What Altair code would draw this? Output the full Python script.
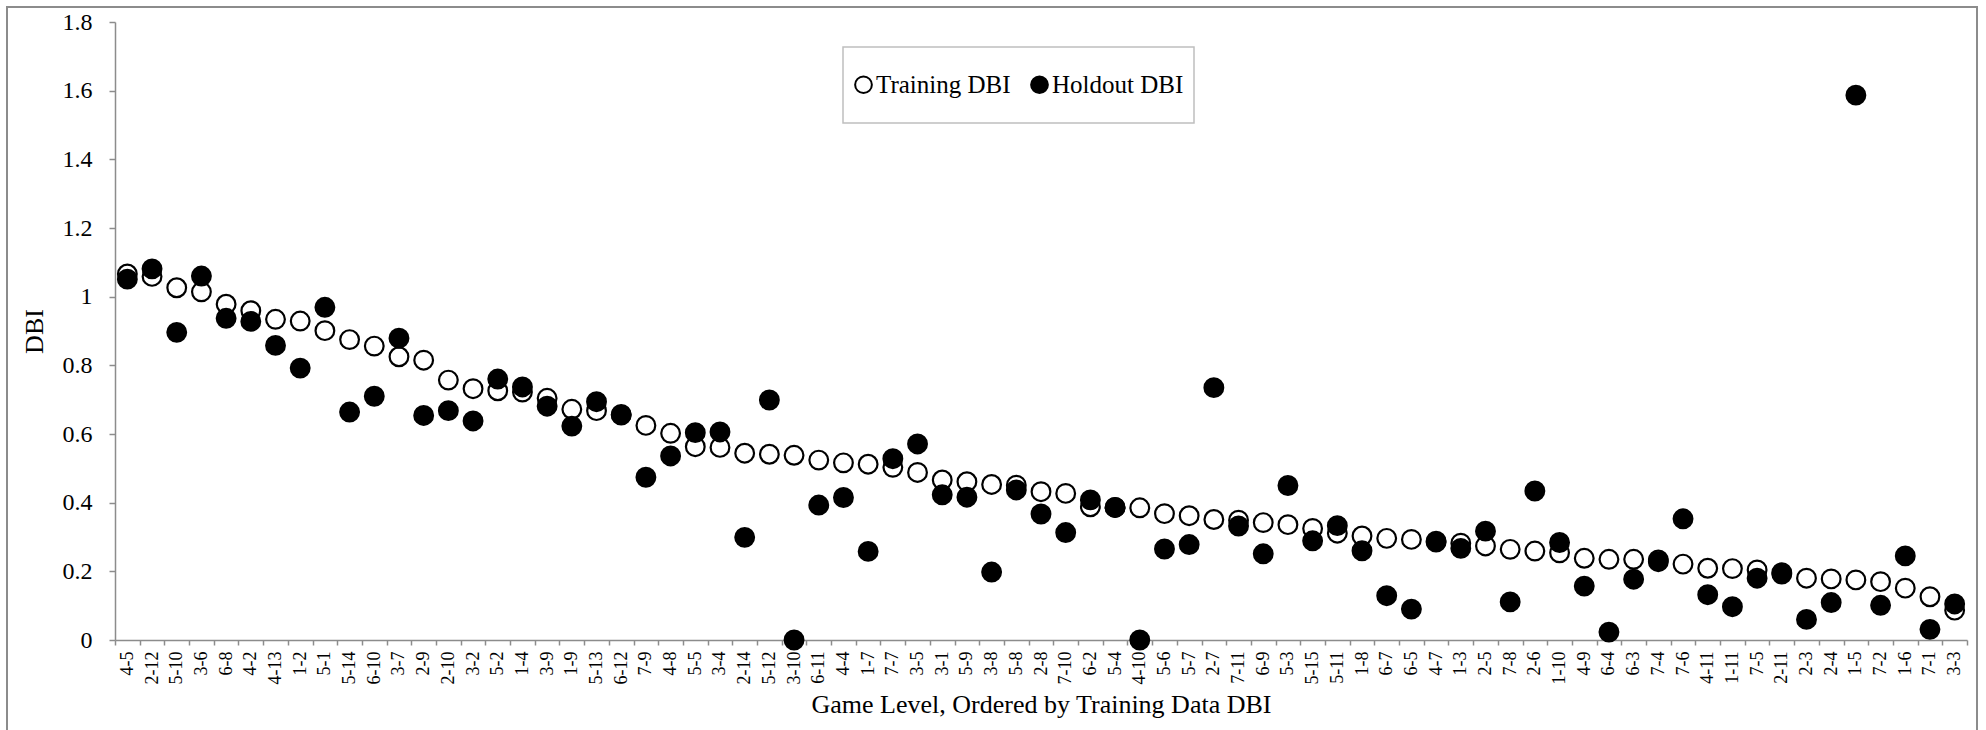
import altair as alt
import pandas as pd

# Game levels, ordered by training-data DBI (descending)
levels = [
    "4-5", "2-12", "5-10", "3-6", "6-8", "4-2", "4-13", "1-2", "5-1", "5-14",
    "6-10", "3-7", "2-9", "2-10", "3-2", "5-2", "1-4", "3-9", "1-9", "5-13",
    "6-12", "7-9", "4-8", "5-5", "3-4", "2-14", "5-12", "3-10", "6-11", "4-4",
    "1-7", "7-7", "3-5", "3-1", "5-9", "3-8", "5-8", "2-8", "7-10", "6-2",
    "5-4", "4-10", "5-6", "5-7", "2-7", "7-11", "6-9", "5-3", "5-15", "5-11",
    "1-8", "6-7", "6-5", "4-7", "1-3", "2-5", "7-8", "2-6", "1-10", "4-9",
    "6-4", "6-3", "7-4", "7-6", "4-11", "1-11", "7-5", "2-11", "2-3", "2-4",
    "1-5", "7-2", "1-6", "7-1", "3-3",
]

training_dbi = [
    1.066, 1.059, 1.026, 1.014, 0.978, 0.959, 0.934, 0.929, 0.901, 0.875,
    0.856, 0.825, 0.815, 0.757, 0.732, 0.726, 0.722, 0.704, 0.672, 0.668,
    0.655, 0.625, 0.602, 0.563, 0.561, 0.544, 0.541, 0.538, 0.524, 0.516,
    0.512, 0.503, 0.488, 0.466, 0.461, 0.453, 0.451, 0.432, 0.427, 0.388,
    0.386, 0.385, 0.368, 0.362, 0.351, 0.349, 0.342, 0.336, 0.325, 0.311,
    0.303, 0.296, 0.293, 0.288, 0.282, 0.274, 0.264, 0.259, 0.254, 0.238,
    0.235, 0.235, 0.233, 0.221, 0.209, 0.208, 0.204, 0.196, 0.180, 0.178,
    0.175, 0.170, 0.151, 0.126, 0.087,
]

holdout_dbi = [
    1.051, 1.081, 0.896, 1.060, 0.937, 0.928, 0.858, 0.792, 0.969, 0.664,
    0.710, 0.879, 0.654, 0.668, 0.638, 0.760, 0.737, 0.681, 0.623, 0.694,
    0.657, 0.474, 0.536, 0.604, 0.606, 0.299, 0.699, 0.000, 0.393, 0.415,
    0.258, 0.528, 0.571, 0.423, 0.416, 0.198, 0.437, 0.367, 0.313, 0.408,
    0.386, 0.000, 0.265, 0.278, 0.735, 0.332, 0.251, 0.450, 0.289, 0.333,
    0.260, 0.129, 0.090, 0.285, 0.267, 0.317, 0.111, 0.434, 0.284, 0.157,
    0.023, 0.177, 0.228, 0.353, 0.132, 0.097, 0.180, 0.192, 0.060, 0.109,
    1.587, 0.101, 0.245, 0.031, 0.105,
]

series_names = ["Training DBI", "Holdout DBI"]
y_ticks = [0, 0.2, 0.4, 0.6, 0.8, 1.0, 1.2, 1.4, 1.6, 1.8]

# Long format: training rows first so holdout markers sit on top
rows = []
for name, values in zip(series_names, [training_dbi, holdout_dbi]):
    for lvl, v in zip(levels, values):
        rows.append({"level": lvl, "series": name, "dbi": v})
df = pd.DataFrame(rows)

FONT = "Liberation Serif"
AXIS_GRAY = "#8c8c8c"
PLOT_W, PLOT_H = 1852, 618

one_row = pd.DataFrame({"k": [0]})

# Outer frame around the whole chart area
frame = alt.Chart(one_row).mark_rect(
    fill="white", fillOpacity=0, stroke=AXIS_GRAY, strokeWidth=2
).encode(x=alt.value(-108), x2=alt.value(1862), y=alt.value(-15), y2=alt.value(720))

# Box behind the legend
legend_box = alt.Chart(one_row).mark_rect(
    fill="white", fillOpacity=0, stroke="#bfbfbf", strokeWidth=1.5
).encode(x=alt.value(728), x2=alt.value(1079), y=alt.value(25), y2=alt.value(101))

points = alt.Chart(df).mark_point(
    shape="circle", filled=True, size=350, stroke="black", strokeWidth=2.2, opacity=1
).encode(
    x=alt.X(
        "level:N",
        sort=levels,
        scale=alt.Scale(type="band", paddingInner=0, paddingOuter=0),
        axis=alt.Axis(
            title="Game Level, Ordered by Training Data DBI",
            labelAngle=270,
            labelAlign="right",
            labelBaseline="middle",
            labelOverlap=False,
            tickBand="extent",
            tickSize=5,
            labelPadding=6,
            labelFont=FONT,
            labelFontSize=18,
            labelColor="black",
            titleFont=FONT,
            titleFontSize=26,
            titleFontWeight="normal",
            titleColor="black",
            titlePadding=8,
            grid=False,
            domainColor=AXIS_GRAY,
            domainWidth=1.5,
            tickColor=AXIS_GRAY,
            tickWidth=1.5,
        ),
    ),
    y=alt.Y(
        "dbi:Q",
        scale=alt.Scale(domain=[0, 1.8], nice=False, zero=True),
        axis=alt.Axis(
            title="DBI",
            values=y_ticks,
            format="~g",
            tickSize=6,
            labelPadding=17,
            labelFont=FONT,
            labelFontSize=24,
            labelColor="black",
            titleFont=FONT,
            titleFontSize=26,
            titleFontWeight="normal",
            titleColor="black",
            titlePadding=15,
            grid=False,
            domainColor=AXIS_GRAY,
            domainWidth=1.5,
            tickColor=AXIS_GRAY,
            tickWidth=1.5,
        ),
    ),
    fill=alt.Fill(
        "series:N",
        scale=alt.Scale(domain=series_names, range=["white", "black"]),
        legend=alt.Legend(
            title=None,
            orient="none",
            legendX=736,
            legendY=50,
            direction="horizontal",
            symbolType="circle",
            symbolSize=280,
            symbolStrokeColor="black",
            symbolStrokeWidth=2,
            symbolOpacity=1,
            labelFont=FONT,
            labelFontSize=25,
            labelColor="black",
            labelOffset=0,
            columnPadding=16,
        ),
    ),
)

chart = alt.layer(frame, legend_box, points).properties(
    width=PLOT_W,
    height=PLOT_H,
    padding={"left": 115, "top": 22, "right": 19, "bottom": 90},
    autosize=alt.AutoSizeParams(type="none"),
    background="white",
).configure_view(strokeWidth=0)

chart.save("out.html", embed_options={"renderer": "svg", "actions": False})
